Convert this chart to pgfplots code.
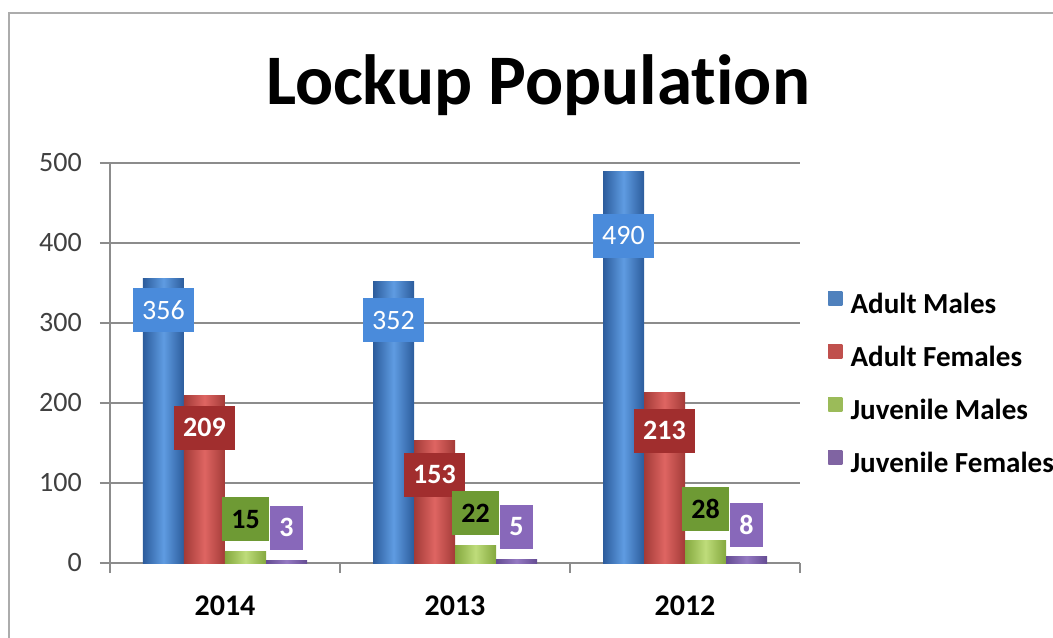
\documentclass[border=0pt]{standalone}
\usepackage{pgfplots}
\pgfplotsset{compat=1.18}
\usepackage{fontspec}
\setmainfont{Carlito}[Ligatures={NoCommon}]
\definecolor{amd}{HTML}{2C5C9C}
\definecolor{aml}{HTML}{5F9CE2}
\definecolor{amb}{HTML}{4A8BDB}
\definecolor{afd}{HTML}{A33A37}
\definecolor{afl}{HTML}{DE6562}
\definecolor{afb}{HTML}{A12E2E}
\definecolor{jmd}{HTML}{84A83E}
\definecolor{jml}{HTML}{BEDC7A}
\definecolor{jmb}{HTML}{6E9A34}
\definecolor{jfd}{HTML}{654C93}
\definecolor{jfl}{HTML}{9479C2}
\definecolor{jfb}{HTML}{8868BA}
\definecolor{gridc}{HTML}{8C8C8C}
\definecolor{tickc}{HTML}{404040}
\definecolor{legam}{HTML}{4F81BD}
\definecolor{legaf}{HTML}{C0504D}
\definecolor{legjm}{HTML}{9BBB59}
\definecolor{legjf}{HTML}{8064A2}
\pgfplotsset{
  lbl/.style={nodes near coords, every node near coord/.append style={anchor=center, inner xsep=7pt, inner ysep=0pt, minimum height=33pt}},
  am/.style={forget plot, draw=none, left color=amd, right color=amd, middle color=aml, bar shift=-46.125pt, lbl,
    every node near coord/.append style={fill=amb, text=white, font=\fontsize{21}{24}\selectfont, yshift=#1}},
  af/.style={forget plot, draw=none, left color=afd, right color=afd, middle color=afl, bar shift=-15.375pt, lbl,
    every node near coord/.append style={fill=afb, text=white, font=\bfseries\fontsize{21}{24}\selectfont, yshift=#1}},
  jm/.style={forget plot, draw=none, left color=jmd, right color=jmd, middle color=jml, bar shift=15.375pt, lbl,
    every node near coord/.append style={fill=jmb, text=black, font=\bfseries\fontsize{21}{24}\selectfont, yshift=#1}},
  jf/.style={forget plot, draw=none, left color=jfd, right color=jfd, middle color=jfl, bar shift=46.125pt, lbl,
    every node near coord/.append style={fill=jfb, text=white, font=\bfseries\fontsize{21}{24}\selectfont, yshift=#1}},
  legsq/.style={legend image code/.code={\path[fill=#1, top color=#1, bottom color=#1, middle color=#1, draw=none] (0pt,1.5pt) rectangle (10.5pt,12pt); \path (16.5pt,0pt);}},
}
\begin{document}
\begin{tikzpicture}
\useasboundingbox (-82.5pt,-55.5pt) rectangle (707.25pt,422.25pt);
\draw[gray!65, line width=2pt] (-75.75pt,-60pt) -- (-75.75pt,412.5pt) -- (720pt,412.5pt);
\node[font=\bfseries\fontsize{53.3}{64}\selectfont, anchor=base] at (321pt,344pt) {Lockup Population};
\begin{axis}[
  scale only axis, width=517.5pt, height=300pt,
  xmin=-0.5, xmax=2.5, ymin=0, ymax=500,
  ytick={0,100,...,500},
  xtick={0,1,2}, xticklabels={2014,2013,2012},
  minor xtick={-0.5,0.5,1.5,2.5},
  ybar=0pt, bar width=30.75pt,
  axis x line*=bottom, axis y line*=left,
  axis line style={gridc, line width=1.2pt},
  ymajorgrids, grid style={gridc, line width=1.6pt},
  tick align=outside,
  major tick length=7.5pt, minor tick length=7.5pt,
  major x tick style={opacity=0},
  minor x tick style={gridc, line width=1.2pt},
  y tick style={gridc, line width=1.2pt},
  /pgf/number format/assume math mode=true,
  yticklabel style={font=\fontsize{21}{24}\selectfont, color=tickc, anchor=east, inner sep=0pt, xshift=-13.5pt},
  xticklabel style={font=\bfseries\fontsize{22.5}{26}\selectfont, anchor=base, inner sep=0pt, yshift=-31.5pt},
  legend style={at={(1.0406,0.6805)}, anchor=north west, draw=none, fill=none, inner sep=0pt, row sep=18.75pt,
    font=\bfseries\fontsize{21.8}{26}\selectfont, nodes={inner sep=0pt, anchor=west, text height=14pt, text depth=4pt}},
  legend cell align=left,
]
% Adult Males
\addplot[am=-24pt] coordinates {(0,356)};
\addplot[am=-29.25pt] coordinates {(1,352)};
\addplot[am=-48.75pt] coordinates {(2,490)};
% Adult Females
\addplot[af=-24pt] coordinates {(0,209)};
\addplot[af=-25.5pt] coordinates {(1,153)};
\addplot[af=-28.5pt] coordinates {(2,213)};
% Juvenile Males
\addplot[jm=24pt] coordinates {(0,15)};
\addplot[jm=24pt] coordinates {(1,22)};
\addplot[jm=24pt] coordinates {(2,28)};
% Juvenile Females
\addplot[jf=24.75pt] coordinates {(0,3)};
\addplot[jf=24pt] coordinates {(1,5)};
\addplot[jf=24pt] coordinates {(2,8)};
\addlegendimage{legsq=legam}
\addlegendentry{Adult Males}
\addlegendimage{legsq=legaf}
\addlegendentry{Adult Females}
\addlegendimage{legsq=legjm}
\addlegendentry{Juvenile Males}
\addlegendimage{legsq=legjf}
\addlegendentry{Juvenile Females}
\end{axis}
\end{tikzpicture}
\end{document}
